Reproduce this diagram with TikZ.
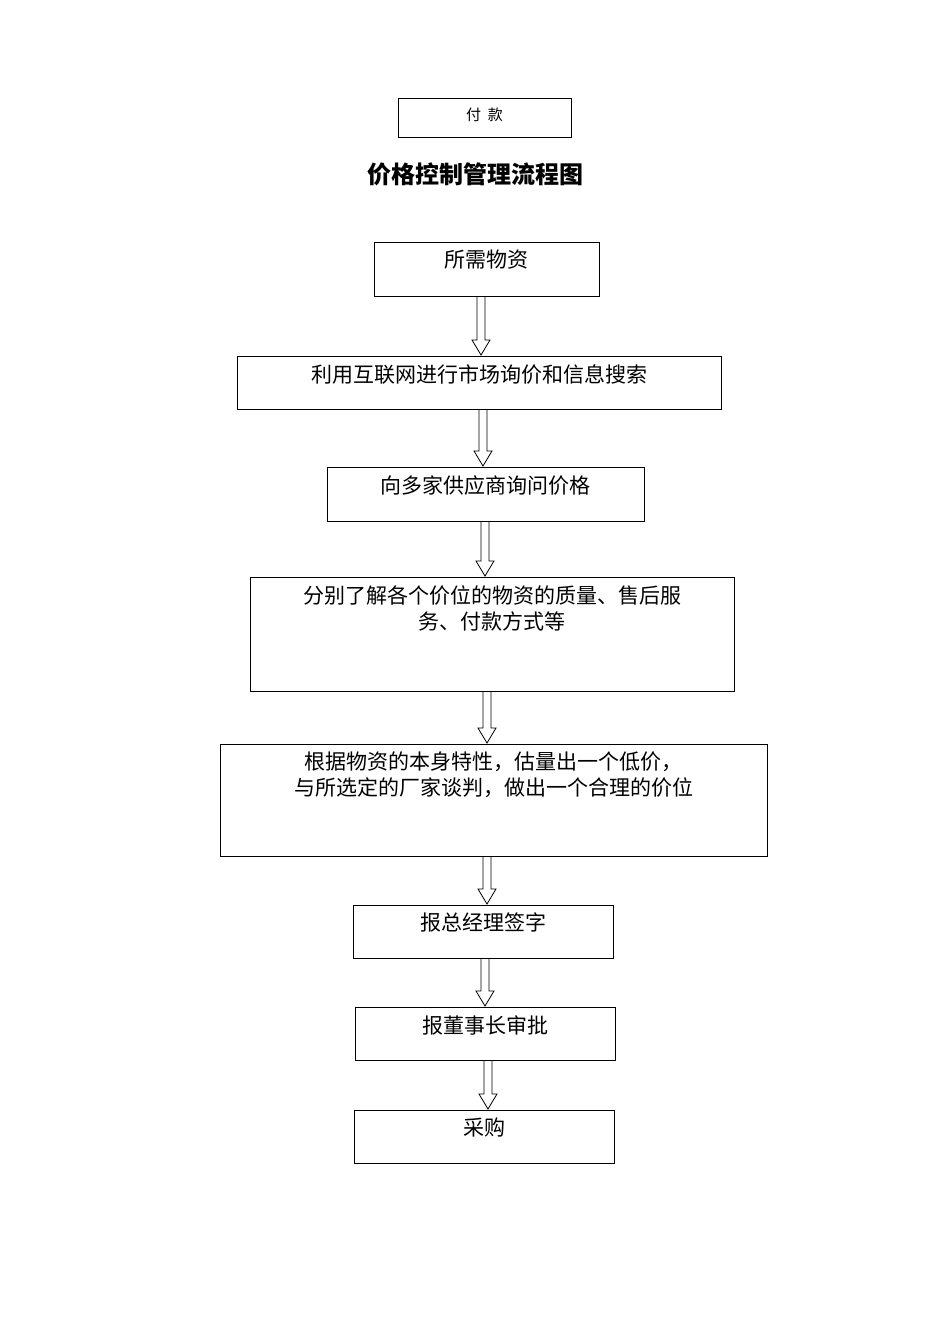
\documentclass[tikz,border=0pt]{standalone}
\usepackage{fontspec}
\newfontfamily\cjk{Noto Sans CJK SC}
\newcommand\bx[6]{% name, x1,y1,x2,y2, text (top)
  \node[boxst, minimum width=#4pt-#2pt, minimum height=#5pt-#3pt] (#1) at ({(#2+#4)/2*1pt},{-(#3+#5)/2*1pt}) {};
  \node[txt, anchor=north] (#1t) at ({(#2+#4)/2*1pt},{-#3*1pt-8pt}) {#6};}
\newcommand\barr[3]{% x, ytop, ybottom
  \draw[arrst] ({#1*1pt-4pt},{-#2*1pt}) -- ({#1*1pt-4pt},{-#3*1pt+15pt}) -- ({#1*1pt-9pt},{-#3*1pt+15pt})
   -- ({#1*1pt},{-#3*1pt}) -- ({#1*1pt+9pt},{-#3*1pt+15pt}) -- ({#1*1pt+4pt},{-#3*1pt+15pt}) -- ({#1*1pt+4pt},{-#2*1pt});}
\begin{document}
\begin{tikzpicture}[x=1pt,y=1pt,
  boxst/.style={draw, line width=1pt, inner sep=0pt},
  txt/.style={font=\cjk\fontsize{21}{26}\selectfont, align=center, inner sep=0pt},
  arrst/.style={draw, line width=0.8pt, fill=white}]
\useasboundingbox (0,0) rectangle (950,-1344);
\node[boxst, minimum width=173pt, minimum height=39pt] (pay) at (484.5,-117.5) {};
\node[font=\cjk\fontsize{15}{18}\selectfont] (payt) at (484.5,-115) {付\ \ 款};
\node[font=\cjk\bfseries\fontsize{24}{28}\selectfont] (title) at (475,-174) {价格控制管理流程图};
\bx{b1}{374}{242}{599}{296}{所需物资}
\bx{b2}{237}{356}{721}{409}{利用互联网进行市场询价和信息搜索}
\bx{b3}{327}{467}{644}{521}{向多家供应商询问价格}
\bx{b4}{250}{577}{734}{691}{分别了解各个价位的物资的质量、售后服\\务、付款方式等}
\bx{b5}{220}{744}{767}{856}{根据物资的本身特性，估量出一个低价，\\与所选定的厂家谈判，做出一个合理的价位}
\bx{b6}{353}{905}{613}{958}{报总经理签字}
\bx{b7}{355}{1007}{615}{1060}{报董事长审批}
\bx{b8}{354}{1110}{614}{1163}{采购}
\barr{481}{297}{355}
\barr{483}{410}{466}
\barr{485}{522}{576}
\barr{487}{692}{743}
\barr{487}{857}{904}
\barr{485}{959}{1006}
\barr{488}{1061}{1109}
\end{tikzpicture}
\end{document}
